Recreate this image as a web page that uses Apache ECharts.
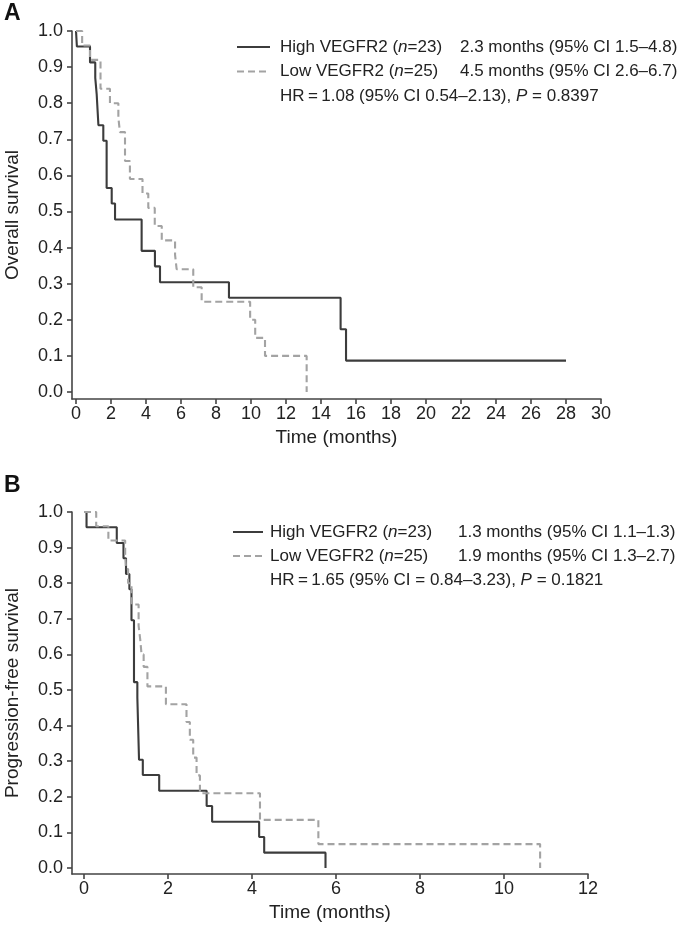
<!DOCTYPE html>
<html>
<head>
<meta charset="utf-8">
<script src="https://cdn.jsdelivr.net/npm/echarts@6/dist/echarts.min.js"></script>
<style>html,body{margin:0;padding:0;background:#fff}#c{width:678px;height:936px}</style>
</head>
<body>
<div id="c"></div>
<script>
// ---- Panel A: overall survival (Kaplan-Meier step data: time in months, survival) ----
const highA_time = [0, 0.05, 0.8, 1.1, 1.18, 1.28, 1.56, 1.75, 2.04, 2.23, 3.75, 4.51, 4.8, 8.74, 15.12, 15.43, 28];
const highA_surv = [1, 0.957, 0.913, 0.870, 0.826, 0.739, 0.696, 0.565, 0.522, 0.478, 0.391, 0.348, 0.304, 0.261, 0.174, 0.087, 0.087];
const lowA_time = [0, 0.35, 0.8, 1.4, 1.94, 2.42, 2.51, 2.8, 3.08, 3.8, 4.13, 4.5, 4.9, 5.66, 5.75, 6.7, 7.18, 9.95, 10.24, 10.8, 13.18];
const lowA_surv = [1, 0.96, 0.92, 0.84, 0.80, 0.76, 0.72, 0.64, 0.59, 0.55, 0.51, 0.46, 0.42, 0.38, 0.34, 0.29, 0.25, 0.20, 0.15, 0.10, 0];

// ---- Panel B: progression-free survival ----
const highB_time = [0, 0.06, 0.78, 0.94, 1.0, 1.08, 1.13, 1.19, 1.27, 1.31, 1.40, 1.79, 2.92, 3.05, 4.17, 4.29, 5.75];
const highB_surv = [1, 0.957, 0.913, 0.870, 0.826, 0.783, 0.696, 0.522, 0.478, 0.304, 0.261, 0.217, 0.174, 0.130, 0.087, 0.043, 0];
const lowB_time = [0, 0.29, 0.58, 0.98, 1.0, 1.05, 1.13, 1.30, 1.34, 1.37, 1.42, 1.51, 1.95, 2.44, 2.52, 2.60, 2.68, 2.76, 4.19, 5.58, 10.86];
const lowB_surv = [1, 0.96, 0.92, 0.88, 0.84, 0.80, 0.74, 0.68, 0.64, 0.60, 0.565, 0.51, 0.46, 0.41, 0.36, 0.31, 0.26, 0.21, 0.135, 0.067, 0];

// ---- Tick labels ----
const xTicksA = [0, 2, 4, 6, 8, 10, 12, 14, 16, 18, 20, 22, 24, 26, 28, 30];
const xTicksB = [0, 2, 4, 6, 8, 10, 12];
const yTicks = [0, 0.1, 0.2, 0.3, 0.4, 0.5, 0.6, 0.7, 0.8, 0.9, 1.0];

// ---- Texts ----
const panelLetters = ['A', 'B'];
const yTitles = ['Overall survival', 'Progression-free survival'];
const xTitle = 'Time (months)';
const legendA = [
  ['High VEGFR2 ({it|n}=23)', '2.3 months (95% CI 1.5–4.8)'],
  ['Low VEGFR2 ({it|n}=25)', '4.5 months (95% CI 2.6–6.7)'],
  ['HR\u2009=\u20091.08 (95% CI 0.54–2.13), {it|P} = 0.8397', '']
];
const legendB = [
  ['High VEGFR2 ({it|n}=23)', '1.3 months (95% CI 1.1–1.3)'],
  ['Low VEGFR2 ({it|n}=25)', '1.9 months (95% CI 1.3–2.7)'],
  ['HR\u2009=\u20091.65 (95% CI = 0.84–3.23), {it|P} = 0.1821', '']
];

const FONT = "'Liberation Sans', Arial, Helvetica, sans-serif";
const TXT = '#222';
const AX = '#444';
const HIGH_COLOR = '#3c3c3c';
const LOW_COLOR = '#a3a3a3';
const TICK_FS = 18, TITLE_FS = 19, LEG_FS = 17;

function pairs(t, s) { return t.map((v, i) => [v, s[i]]); }

function xAxis(gridIndex, min, max, ticks) {
  return {
    type: 'value', gridIndex, min, max,
    name: xTitle, nameLocation: 'middle', nameGap: 29,
    nameTextStyle: { fontFamily: FONT, fontSize: TITLE_FS, color: TXT },
    splitLine: { show: false },
    axisLine: { show: true, onZero: false, lineStyle: { color: AX, width: 1.6 } },
    axisTick: { show: true, customValues: ticks, length: 5, lineStyle: { color: AX, width: 1.6 } },
    axisLabel: { customValues: ticks, fontFamily: FONT, fontSize: TICK_FS, color: TXT, margin: 6 }
  };
}
function yAxis(gridIndex, min, name) {
  return {
    type: 'value', gridIndex, min, max: 1,
    name, nameLocation: 'middle', nameGap: 50, nameRotate: 90,
    nameTextStyle: { fontFamily: FONT, fontSize: TITLE_FS, color: TXT },
    splitLine: { show: false },
    axisLine: { show: true, onZero: false, lineStyle: { color: AX, width: 1.6 } },
    axisTick: { show: true, customValues: yTicks, length: 5, lineStyle: { color: AX, width: 1.6 } },
    axisLabel: { customValues: yTicks, formatter: v => v.toFixed(1), fontFamily: FONT, fontSize: TICK_FS, color: TXT, margin: 9 }
  };
}
function series(name, xi, data, color, dashed) {
  return {
    name, type: 'line', xAxisIndex: xi, yAxisIndex: xi, data, step: 'end',
    symbol: 'none', silent: true,
    lineStyle: { color, width: 2.1, type: dashed ? [7, 4] : 'solid' }
  };
}

function legendGraphics(rows, y0, dy, lineX0, lineX1, textX, col2X) {
  const els = [];
  const base = { fontFamily: FONT, fontSize: LEG_FS, fill: TXT, verticalAlign: 'middle', align: 'left',
    rich: { it: { fontFamily: FONT, fontSize: LEG_FS, fontStyle: 'italic', fill: TXT } } };
  rows.forEach((r, i) => {
    const y = y0 + i * dy;
    if (i < 2) {
      els.push({ type: 'line', shape: { x1: lineX0, y1: y, x2: lineX1, y2: y },
        style: { stroke: i === 0 ? HIGH_COLOR : LOW_COLOR, lineWidth: 2, lineDash: i === 0 ? null : [7, 4] } });
    }
    els.push({ type: 'text', x: textX, y, style: Object.assign({}, base, { text: r[0] }) });
    if (r[1]) els.push({ type: 'text', x: col2X, y, style: Object.assign({}, base, { text: r[1] }) });
  });
  return els;
}

const chart = echarts.init(document.getElementById('c'), null, { renderer: 'canvas' });
chart.setOption({
  animation: false,
  backgroundColor: '#fff',
  grid: [
    { left: 72, right: 77, top: 31, bottom: 537, containLabel: false, outerBoundsMode: 'none' },
    { left: 72, right: 90, top: 512, bottom: 62, containLabel: false, outerBoundsMode: 'none' }
  ],
  xAxis: [ xAxis(0, -0.229, 30, xTicksA), xAxis(1, -0.286, 12, xTicksB) ],
  yAxis: [ yAxis(0, -0.0194, yTitles[0]), yAxis(1, -0.017, yTitles[1]) ],
  series: [
    series('High VEGFR2 A', 0, pairs(highA_time, highA_surv), HIGH_COLOR, false),
    series('Low VEGFR2 A', 0, pairs(lowA_time, lowA_surv), LOW_COLOR, true),
    series('High VEGFR2 B', 1, pairs(highB_time, highB_surv), HIGH_COLOR, false),
    series('Low VEGFR2 B', 1, pairs(lowB_time, lowB_surv), LOW_COLOR, true)
  ],
  graphic: [
    { type: 'text', x: 4, y: 14, style: { text: panelLetters[0], fontFamily: FONT, fontSize: 23, fontWeight: 'bold', fill: '#111', verticalAlign: 'middle' } },
    { type: 'text', x: 4, y: 486, style: { text: panelLetters[1], fontFamily: FONT, fontSize: 23, fontWeight: 'bold', fill: '#111', verticalAlign: 'middle' } }
  ].concat(
    legendGraphics(legendA, 47, 24.5, 237, 270, 280, 460),
    legendGraphics(legendB, 532, 24, 233, 263, 270, 458)
  )
});
</script>
</body>
</html>
